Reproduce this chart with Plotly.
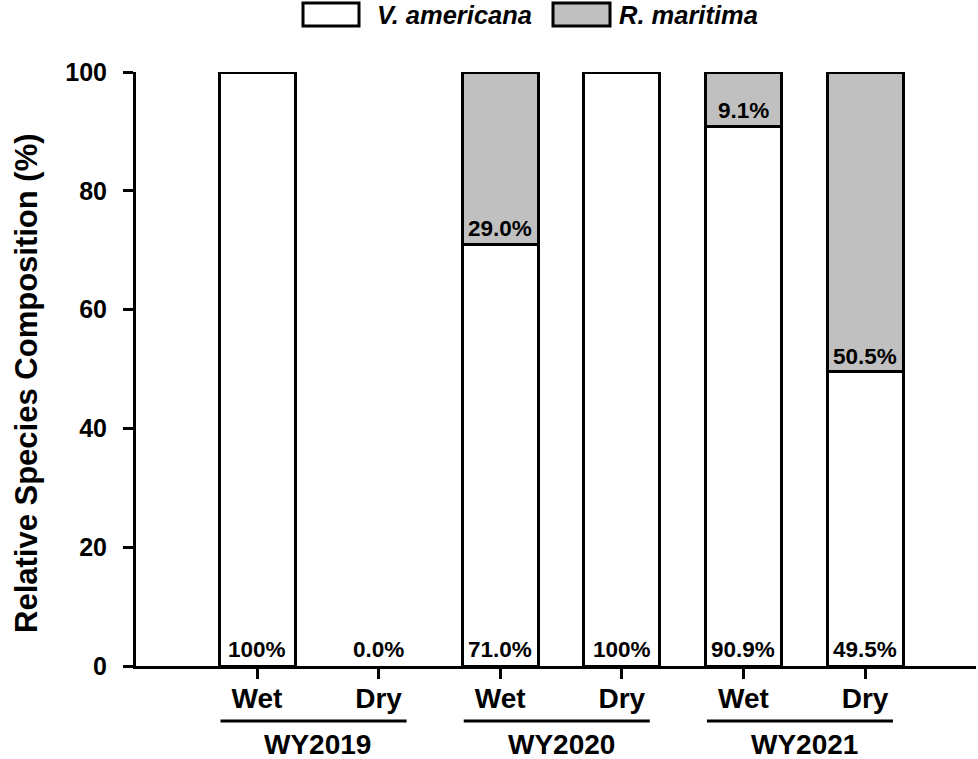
import plotly.graph_objects as go

# ---- data ----
seasons = ["Wet", "Dry", "Wet", "Dry", "Wet", "Dry"]
water_years = ["WY2019", "WY2020", "WY2021"]
v_americana = [100, 0, 71.0, 100, 90.9, 49.5]
r_maritima = [0, 0, 29.0, 0, 9.1, 50.5]
series_names = ["V. americana", "R. maritima"]
y_ticks = [0, 20, 40, 60, 80, 100]

FONT = "Liberation Sans, Arial, Helvetica, sans-serif"
GRAY = "#c0c0c0"

W, H = 978, 759
L, R, T, B = 136, 2, 72, 93
PW, PH = W - L - R, H - T - B


def px_x(px):
    return (px - L) / PW


def px_y(py):
    return (H - B - py) / PH


xs = list(range(len(seasons)))


def nz(vals):
    # zero-height segments are not drawn
    return [v if v > 0 else None for v in vals]


fig = go.Figure()
fig.add_trace(go.Bar(x=xs, y=nz(v_americana), name=series_names[0], width=0.625,
                     marker=dict(color="white", line=dict(color="black", width=3))))
fig.add_trace(go.Bar(x=xs, y=nz(r_maritima), name=series_names[1], width=0.625,
                     marker=dict(color=GRAY, line=dict(color="black", width=3))))

ann = []
lab_font = dict(family=FONT, size=22.5, color="black", weight="bold")


def fmt(v):
    return "100%" if v == 100 else f"{v:.1f}%"


for i, (va, rm) in enumerate(zip(v_americana, r_maritima)):
    ann.append(dict(x=i, y=0, text=fmt(va), showarrow=False, yanchor="bottom",
                    xanchor="center", yshift=2, font=lab_font))
    if rm > 0:
        ann.append(dict(x=i, y=va, text=fmt(rm), showarrow=False, yanchor="bottom",
                        xanchor="center", yshift=1, font=lab_font))

shapes = []
# water-year group labels and underlines
for g, wy in enumerate(water_years):
    i0, i1 = 2 * g, 2 * g + 1
    shapes.append(dict(type="line", xref="x", yref="paper", x0=i0 - 0.3, x1=i1 + 0.23,
                       y0=px_y(721), y1=px_y(721), line=dict(color="black", width=3)))
    ann.append(dict(x=(i0 + i1) / 2, y=px_y(744), xref="x", yref="paper", text=wy,
                    showarrow=False, xanchor="center", yanchor="middle",
                    font=dict(family=FONT, size=28, color="black", weight="bold")))

# custom legend
leg = [(303, 359, 375, "white", series_names[0]), (553, 610, 617, GRAY, series_names[1])]
for x0, x1, tx, col, name in leg:
    shapes.append(dict(type="rect", xref="paper", yref="paper", x0=px_x(x0), x1=px_x(x1),
                       y0=px_y(26), y1=px_y(3), fillcolor=col,
                       line=dict(color="black", width=3)))
    ann.append(dict(x=px_x(tx), y=px_y(15), xref="paper", yref="paper", text=name,
                    showarrow=False, xanchor="left", yanchor="middle",
                    font=dict(family=FONT, size=25.5, color="black", weight="bold",
                              style="italic")))

# y-axis title
ann.append(dict(x=px_x(26), y=px_y(383), xref="paper", yref="paper",
                text="Relative Species Composition (%)", textangle=-90, showarrow=False,
                xanchor="center", yanchor="middle",
                font=dict(family=FONT, size=31, color="black", weight="bold")))

fig.update_layout(
    width=W, height=H, barmode="stack", showlegend=False,
    margin=dict(l=L, r=R, t=T, b=B, pad=0),
    paper_bgcolor="white", plot_bgcolor="white",
    annotations=ann, shapes=shapes,
    xaxis=dict(range=[(L - 257) / 121.6, (W - R - 257) / 121.6], tickvals=xs, ticktext=seasons,
               showline=True, linecolor="black", linewidth=3, ticks="outside", ticklen=10,
               tickwidth=3, tickcolor="black", showgrid=False, zeroline=False,
               ticklabelstandoff=-5,
               tickfont=dict(family=FONT, size=28, color="black", weight="bold")),
    yaxis=dict(range=[0, 100], tickvals=y_ticks, showline=True, linecolor="black",
               linewidth=3, ticks="outside", ticklen=10, tickwidth=3, tickcolor="black",
               showgrid=False, zeroline=False, ticklabelstandoff=11,
               tickfont=dict(family=FONT, size=25, color="black", weight="bold")),
)

fig.write_html("out.html")
